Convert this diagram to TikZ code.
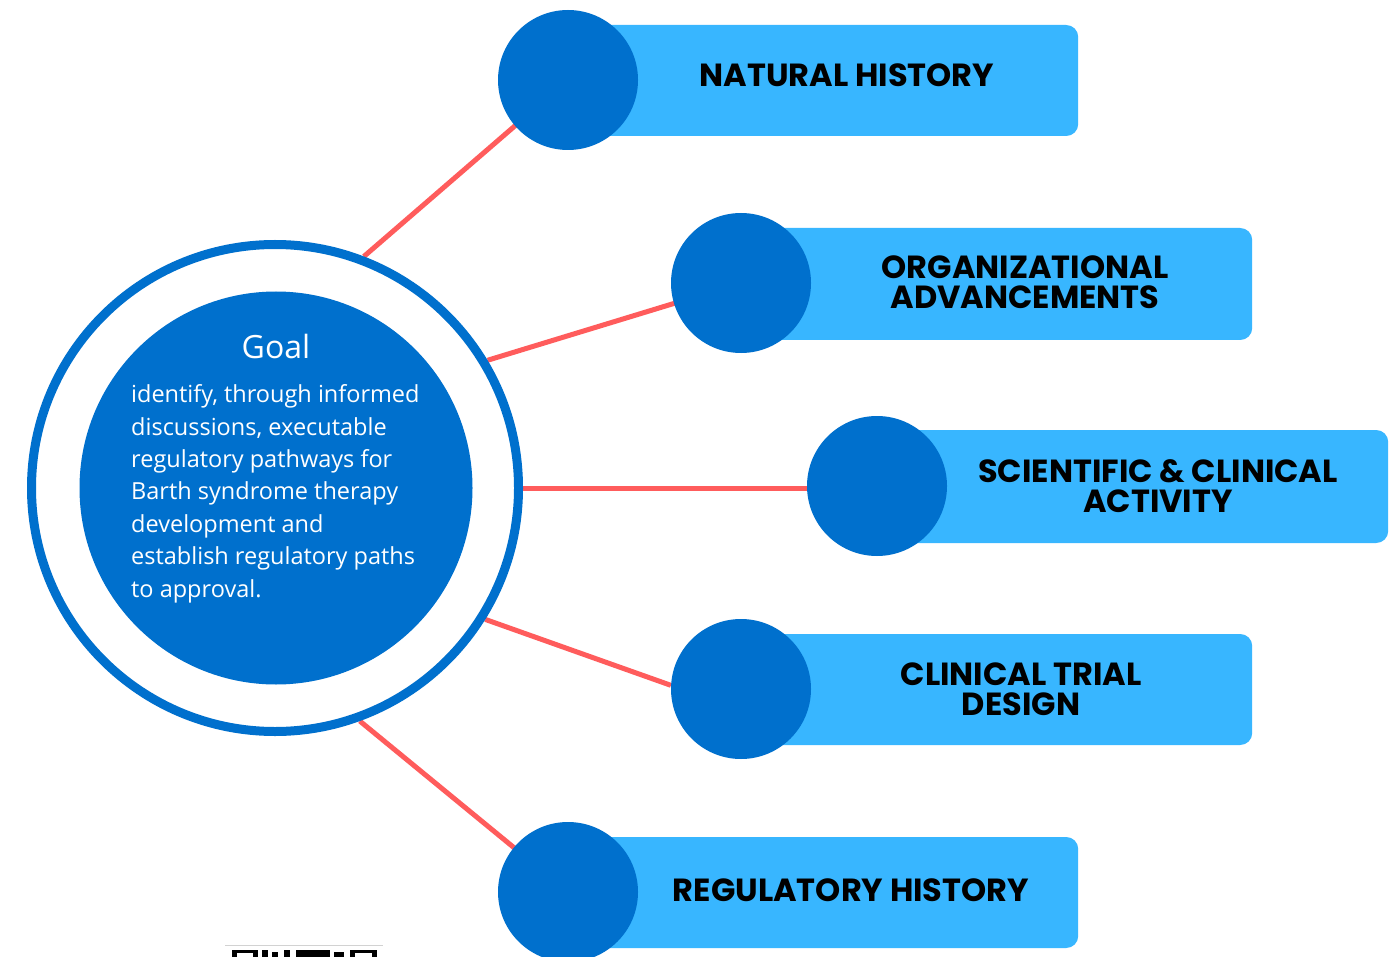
\documentclass[tikz,border=0pt]{standalone}
\usepackage{fontspec}
\setmainfont{Open Sans}
\newfontfamily\labfont{Poppins}
\usetikzlibrary{backgrounds}
\definecolor{dblue}{HTML}{0070CD}
\definecolor{lblue}{HTML}{38B6FF}
\definecolor{redl}{HTML}{FF5C5C}
\begin{document}
\begin{tikzpicture}[x=1pt,y=-1pt,
  smallc/.style={circle,fill=dblue,minimum size=140pt,inner sep=0pt},
  bar/.style={fill=lblue,rounded corners=12pt,inner sep=0pt,anchor=west},
  lbl/.style={font=\labfont\bfseries\fontsize{32}{30}\selectfont,align=center,text=black,inner sep=0pt},
  conn/.style={draw=redl,line width=5pt}]
\useasboundingbox (0,0) rectangle (1394,957);
% central goal
\node[circle,draw=dblue,line width=9pt,fill=white,minimum size=487pt,inner sep=0pt] (ring) at (275,488) {};
\node[circle,fill=dblue,minimum size=393pt,inner sep=0pt] (goal) at (276,488) {};
\node[anchor=base,text=white,font=\fontsize{32}{36}\selectfont,inner sep=0pt] (goaltitle) at (276,359) {Goal};
\node[anchor=base west,align=left,text=white,font=\fontsize{23.5}{32.4}\selectfont,inner sep=0pt] (goaltext) at (131,597)
  {identify, through informed\\discussions, executable\\regulatory pathways for\\Barth syndrome therapy\\development and\\establish regulatory paths\\to approval.};
% bars
\node[bar,minimum width=510pt,minimum height=111pt] (b1) at (568,80.5) {};
\node[bar,minimum width=511pt,minimum height=112pt] (b2) at (741,284) {};
\node[bar,minimum width=511pt,minimum height=113pt] (b3) at (877,486.5) {};
\node[bar,minimum width=511pt,minimum height=111pt] (b4) at (741,689.5) {};
\node[bar,minimum width=510pt,minimum height=111pt] (b5) at (568,892.5) {};
% small circles
\node[smallc] (c1) at (568,80) {};
\node[smallc] (c2) at (741,283) {};
\node[smallc] (c3) at (877,486) {};
\node[smallc] (c4) at (741,689) {};
\node[smallc] (c5) at (568,892) {};
% labels
\node[lbl] (t1) at (847,75) {NATURAL HISTORY};
\node[lbl] (t2) at (1025,282) {ORGANIZATIONAL\\ADVANCEMENTS};
\node[lbl] (t3) at (1158,486) {SCIENTIFIC \& CLINICAL\\ACTIVITY};
\node[lbl] (t4) at (1021,689) {CLINICAL TRIAL\\DESIGN};
\node[lbl] (t5) at (851,890) {REGULATORY HISTORY};
% connectors
\begin{pgfonlayer}{background}
\fill[white] (0,0) rectangle (1394,957);
\draw[conn] (ring.69.7) -- (c1.center);
\draw[conn] (ring.31) -- (c2.center);
\draw[conn] (ring.0) -- (ring.0 -| c3.center);
\draw[conn] (ring.-32.9) -- (c4.177);
\draw[conn] (ring.-70.8) -- (c5.center);
\end{pgfonlayer}
% clipped code fragment at bottom
\draw[gray!35,line width=1pt] (225,945) -- (383,945);
\fill[black] (232,950) rectangle (258,957);
\fill[white] (237,953) rectangle (253,957);
\fill[black] (262,950) rectangle (268,957);
\fill[black] (272,952) rectangle (278,957);
\fill[black] (284,950) rectangle (290,957);
\fill[black] (296,950) rectangle (330,957);
\fill[black] (334,952) rectangle (344,957);
\fill[black] (350,950) rectangle (377,957);
\fill[white] (355,953) rectangle (372,957);
\end{tikzpicture}
\end{document}
